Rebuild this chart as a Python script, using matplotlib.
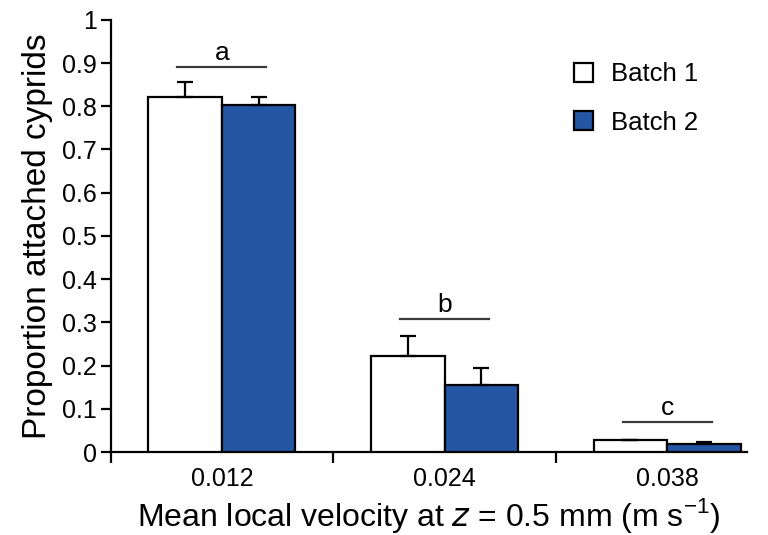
import numpy as np
import matplotlib.pyplot as plt

plt.rcParams['font.family'] = ['Liberation Sans', 'DejaVu Sans']

# Data
velocities = ["0.012", "0.024", "0.038"]
batch1 = [0.822, 0.222, 0.029]
batch2 = [0.803, 0.155, 0.018]
batch1_err = [0.034, 0.046, 0.0]
batch2_err = [0.019, 0.039, 0.006]
letters = ["a", "b", "c"]
letter_heights = [0.89, 0.307, 0.069]

blue = '#2456A3'

fig = plt.figure(figsize=(7.68, 5.35), dpi=100)
ax = fig.add_axes([0.144, 0.155, 0.829, 0.808])

ind = np.arange(len(velocities))
width = 0.33
ekw = dict(elinewidth=1.6, capsize=5.5, capthick=1.6, ecolor='black')
p1 = ax.bar(ind - width / 2, batch1, width, color='white', edgecolor='black',
            linewidth=1.6, yerr=[np.zeros(3), batch1_err], error_kw=ekw, zorder=3)
p2 = ax.bar(ind + width / 2, batch2, width, color=blue, edgecolor='black',
            linewidth=1.6, yerr=[np.zeros(3), batch2_err], error_kw=ekw, zorder=3)

# significance groups
for i, (lab, h) in enumerate(zip(letters, letter_heights)):
    ax.plot([i - 0.2, i + 0.2], [h, h], color='#3a3a3a', lw=1.6, zorder=4)
    ax.text(i, h + 0.016, lab, ha='center', va='baseline', fontsize=19)

ax.set_xlim(-0.5, 2.36)
ax.set_ylim(0, 1)
ax.spines['top'].set_visible(False)
ax.spines['right'].set_visible(False)
ax.spines['left'].set_linewidth(1.6)
ax.spines['bottom'].set_linewidth(1.6)

ax.set_yticks(np.arange(0, 1.01, 0.1))
ax.set_yticklabels(['0'] + ['%.1f' % v for v in np.arange(0.1, 0.95, 0.1)] + ['1'])
ax.tick_params(axis='y', direction='out', length=7, width=1.6, labelsize=18, pad=3)

ax.set_xticks([-0.5, 0.5, 1.5])
ax.set_xticklabels([])
ax.tick_params(axis='x', which='major', direction='out', length=8, width=1.6)
ax.set_xticks(ind, minor=True)
ax.set_xticklabels(velocities, minor=True)
ax.tick_params(axis='x', which='minor', length=0, labelsize=18, pad=11)

ax.set_xlabel('Mean local velocity at $\\it{z}$ = 0.5 mm (m s$^{\\mathregular{-1}}$)',
              fontsize=23, labelpad=3)
ax.set_ylabel('Proportion attached cyprids', fontsize=24, labelpad=6)

ax.legend((p1, p2), ('Batch 1', 'Batch 2'), loc='upper right', bbox_to_anchor=(0.96, 0.955),
          frameon=False, fontsize=18.5, handlelength=0.75, handleheight=0.75,
          handletextpad=0.7, labelspacing=0.95)

plt.savefig('out.png', dpi=100)
plt.close()
